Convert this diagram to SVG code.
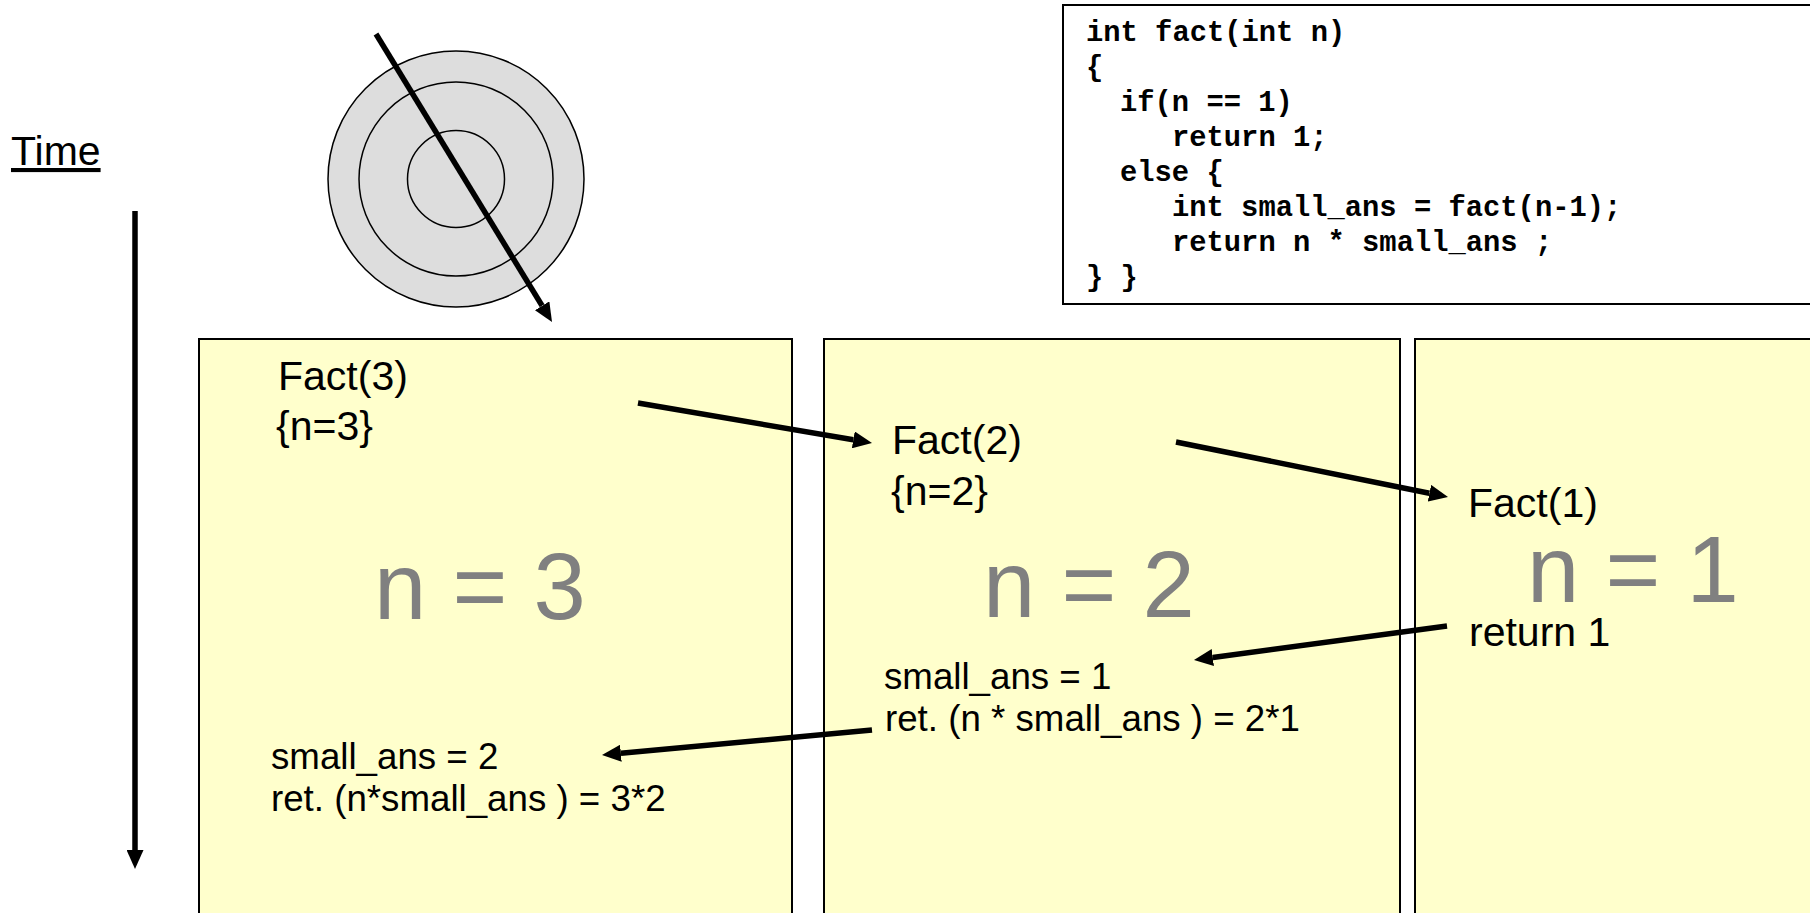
<svg xmlns="http://www.w3.org/2000/svg" width="1810" height="913" viewBox="0 0 1810 913">
<style>
.frame{fill:#FFFFCC;stroke:#000;stroke-width:2}
.lbl{font-family:"Liberation Sans",Arial,sans-serif;font-size:41px;fill:#000}
.sm{font-family:"Liberation Sans",Arial,sans-serif;font-size:36.7px;fill:#000}
.big{font-family:"Liberation Sans",Arial,sans-serif;font-size:94px;fill:#808080}
.code{font-family:"Liberation Mono","Courier New",monospace;font-weight:bold;font-size:28.8px;fill:#000}
.ring{fill:#DDDDDD;stroke:#000;stroke-width:1.5}
.conn{stroke:#000;stroke-width:5.5;fill:none;marker-end:url(#ah)}
</style>
<defs>
<marker id="ah" viewBox="0 0 19 17" markerUnits="userSpaceOnUse" markerWidth="19" markerHeight="17" refX="0" refY="8.5" orient="auto">
<path d="M0,0 L19,8.5 L0,17 z" fill="#000"/>
</marker>
</defs>
<rect width="1810" height="913" fill="#fff"/>

<g id="time-label">
<text class="lbl" x="11" y="165" font-size="42" text-decoration="underline">Time</text>
</g>

<g id="target">
<circle class="ring" cx="456" cy="179" r="128"/>
<circle class="ring" cx="456" cy="179" r="97"/>
<circle class="ring" cx="456" cy="179" r="48.5"/>
</g>

<g id="code-box">
<rect x="1063" y="5" width="770" height="299" fill="#fff" stroke="#000" stroke-width="2"/>
<text class="code" x="1086" y="41">int fact(int n)</text>
<text class="code" x="1086" y="76">{</text>
<text class="code" x="1120" y="111">if(n == 1)</text>
<text class="code" x="1172" y="146">return 1;</text>
<text class="code" x="1120" y="181">else {</text>
<text class="code" x="1172" y="216">int small_ans = fact(n-1);</text>
<text class="code" x="1172" y="251">return n * small_ans ;</text>
<text class="code" x="1086" y="286">} }</text>
</g>

<g id="frame-3">
<rect class="frame" x="199" y="339" width="593" height="590"/>
<text class="lbl" x="278" y="390">Fact(3)</text>
<text class="lbl" x="276" y="440">{n=3}</text>
<text class="big" x="374" y="619">n = 3</text>
<text class="sm" x="271" y="769">small_ans = 2</text>
<text class="sm" x="271" y="811">ret. (n*small_ans ) = 3*2</text>
</g>

<g id="frame-2">
<rect class="frame" x="824" y="339" width="576" height="590"/>
<text class="lbl" x="892" y="454">Fact(2)</text>
<text class="lbl" x="891" y="505">{n=2}</text>
<text class="big" x="983" y="617">n = 2</text>
<text class="sm" x="884" y="689">small_ans = 1</text>
<text class="sm" x="885" y="731">ret. (n * small_ans ) = 2*1</text>
</g>

<g id="frame-1">
<rect class="frame" x="1415" y="339" width="420" height="590"/>
<text class="lbl" x="1468" y="517">Fact(1)</text>
<text class="big" x="1527" y="602">n = 1</text>
<text class="lbl" x="1469" y="646">return 1</text>
</g>

<g id="connectors">
<line class="conn" x1="376" y1="34" x2="542.1" y2="305.8"/>
<line class="conn" x1="135" y1="211" x2="135" y2="850"/>
<line class="conn" x1="638" y1="403" x2="853.3" y2="439.8"/>
<line class="conn" x1="1176" y1="442" x2="1429.4" y2="493.2"/>
<line class="conn" x1="1447" y1="626" x2="1212.8" y2="657.5"/>
<line class="conn" x1="872" y1="730" x2="620.9" y2="753.2"/>
</g>
</svg>
